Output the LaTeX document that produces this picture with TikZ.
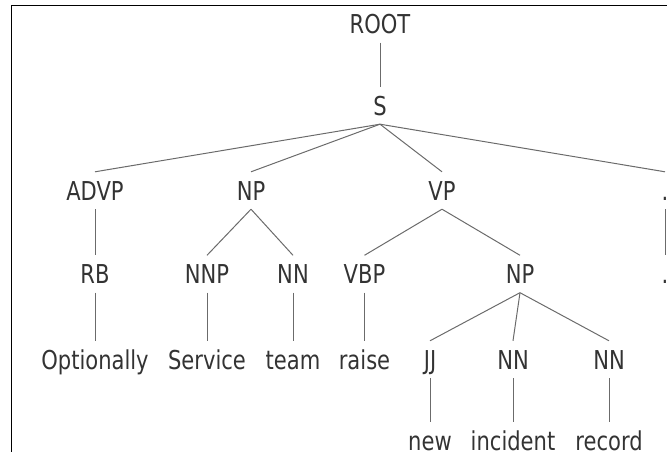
\documentclass[tikz,border=0pt]{standalone}
\usepackage{fontspec}
\setmainfont{DejaVu Sans}[FakeStretch=0.81]
\usepackage{xcolor}
\usetikzlibrary{positioning}
\definecolor{treeInk}{HTML}{333333}
\definecolor{treeEdge}{HTML}{6B6B6B}
\definecolor{treeFrame}{HTML}{000000}

\begin{document}
\begin{tikzpicture}[x=1pt, y=-1pt,
    every node/.style={font=\fontsize{26}{30}\selectfont, text=treeInk, inner sep=0pt, text height=28pt, text depth=9pt},
    lowword/.style={text depth=0pt},
    branch/.style={treeEdge, line width=1pt}]
    \clip (0,0) rectangle (667,452);
    \useasboundingbox (0,0) rectangle (667,452);
    \draw[treeFrame, line width=1.1pt] (11.3,460) |- (680,5.3);

    % phrase levels
    \node (root) at (380,24) {ROOT};
    \node (s) at (380,105.5) {S};
    \node (advp) at (95,190.5) {ADVP};
    \node (np) at (251,190.5) {NP};
    \node (vp) at (442,190.5) {VP};
    \node (stop) at (665,190.5) {.};

    % tags
    \node (rb) at (95,274) {RB};
    \node (nnp) at (207,274) {NNP};
    \node (nnteam) at (293,274) {NN};
    \node (vbp) at (364.5,274) {VBP};
    \node (npobj) at (520,274) {NP};
    \node (stoptag) at (665,274) {.};

    % words
    \node (optionally) at (95,359.5) {Optionally};
    \node (service) at (207,359.5) {Service};
    \node (team) at (293,359.5) {team};
    \node (raise) at (364.5,359.5) {raise};
    \node (jj) at (430,359.5) {JJ};
    \node (nnincident) at (513,359.5) {NN};
    \node (nnrecord) at (609,359.5) {NN};
    \node[lowword] (new) at (430,436) {new};
    \node[lowword] (incident) at (513,436) {incident};
    \node[lowword] (record) at (609,436) {record};

    \foreach \a/\b in {root/s,s/advp,s/np,s/vp,s/stop,advp/rb,np/nnp,np/nnteam,vp/vbp,vp/npobj,stop/stoptag,
                       rb/optionally,nnp/service,nnteam/team,vbp/raise,npobj/jj,npobj/nnincident,npobj/nnrecord,
                       jj/new,nnincident/incident,nnrecord/record}
      \draw[branch] (\a.south) -- (\b.north);
  \end{tikzpicture}
\end{document}
